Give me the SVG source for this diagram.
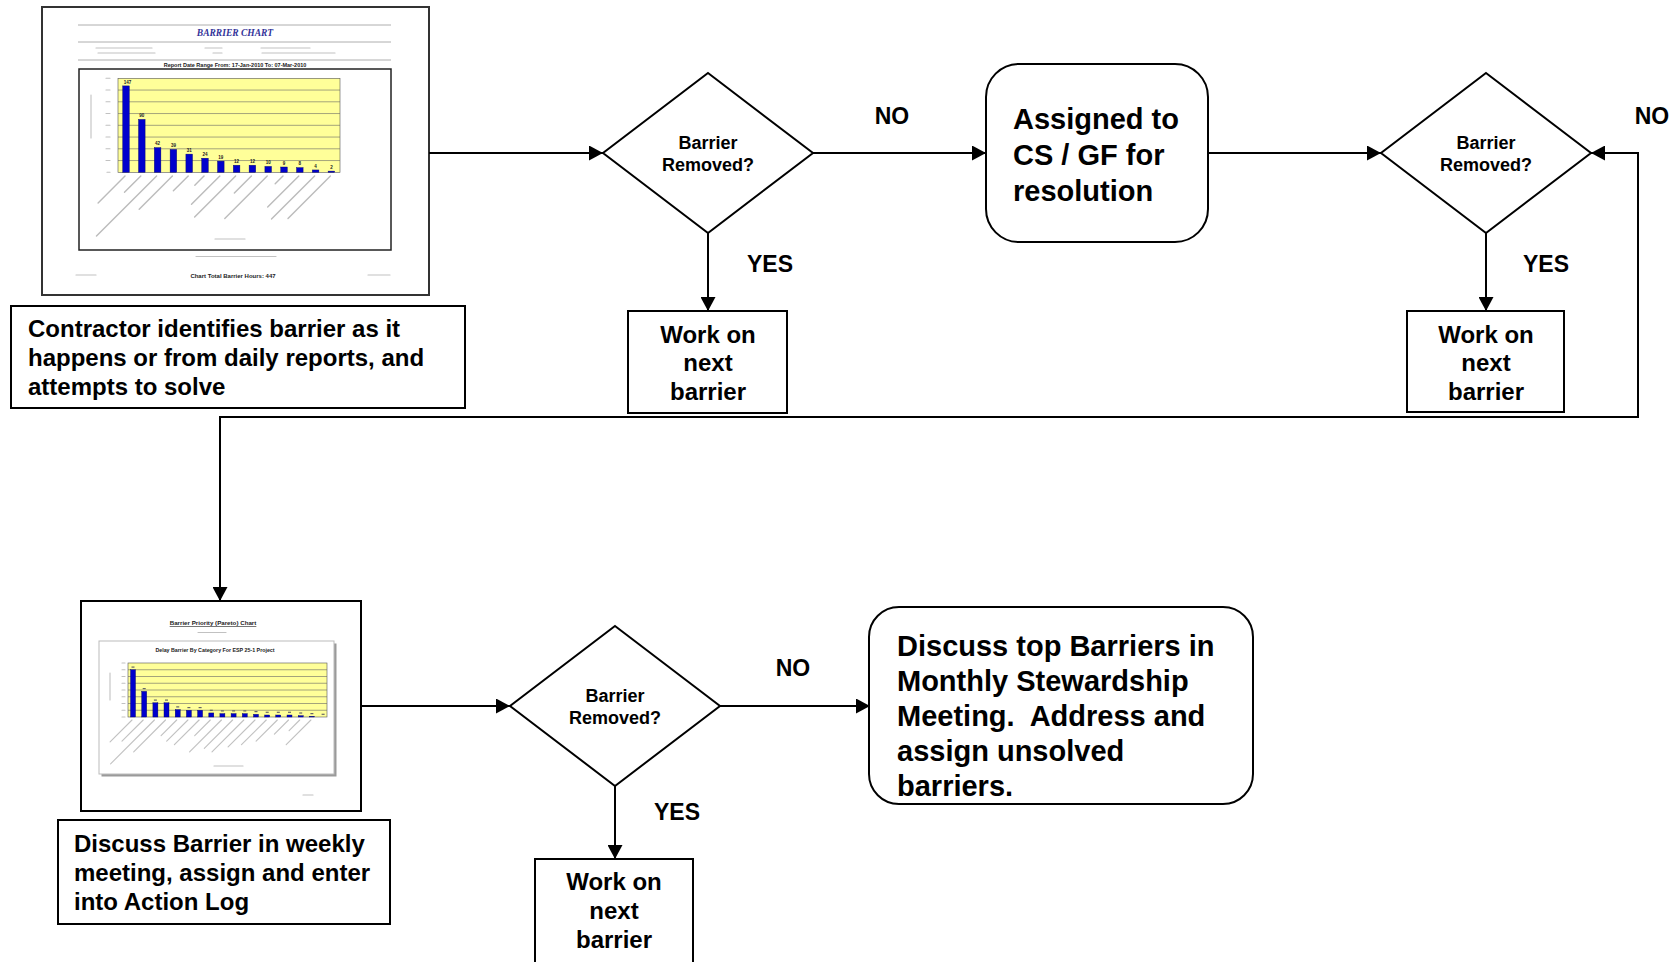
<svg xmlns="http://www.w3.org/2000/svg" width="1676" height="962" viewBox="0 0 1676 962">
<defs>
<style>
.box{fill:#fff;stroke:#000;stroke-width:2}
.t{font-family:"Liberation Sans",Arial,sans-serif;font-weight:bold;fill:#000}
.big{font-size:29px}
.mid{font-size:24px}
.dq{font-size:18px;text-anchor:middle}
.lbl{font-size:23px;text-anchor:middle}
.c{text-anchor:middle}
.con{fill:none;stroke:#000;stroke-width:2}
.page{fill:#fff;stroke:#333;stroke-width:2}
.rule{stroke:#999;stroke-width:0.8}
.grid{stroke:#666;stroke-width:0.6}
.plot{fill:#FFFF99;stroke:#555;stroke-width:0.6}
.bar{fill:#0000CC;stroke:#000066;stroke-width:0.4}
.blur{stroke:#a0a0a0;stroke-width:1.4;stroke-linecap:round;opacity:0.7}
.blur2{stroke:#a8a8a8;stroke-width:1.1;stroke-linecap:round;opacity:0.7}
.tiny{font-family:"Liberation Sans",Arial,sans-serif;font-weight:bold;fill:#222}
</style>
<marker id="ah" markerUnits="userSpaceOnUse" markerWidth="14" markerHeight="15" refX="14" refY="7.5" orient="auto-start-reverse" viewBox="0 0 14 15">
<path d="M0,0 L14,7.5 L0,15 z" fill="#000"/>
</marker>
</defs>
<rect width="1676" height="962" fill="#fff"/>

<g id="chart-barrier">
<rect class="page" x="42" y="7" width="387" height="288"/>
<line class="rule" x1="78" y1="25" x2="391" y2="25"/>
<line class="rule" x1="78" y1="42" x2="391" y2="42"/>
<line class="rule" x1="78" y1="60" x2="391" y2="60"/>
<text x="235" y="35.5" font-family="Liberation Serif,serif" font-style="italic" font-weight="bold" font-size="9.5" fill="#333399" text-anchor="middle">BARRIER CHART</text>
<g class="blur2">
<line x1="96" y1="48" x2="152" y2="48"/><line x1="205" y1="48" x2="222" y2="48"/><line x1="261" y1="48" x2="310" y2="48"/>
<line x1="98" y1="53" x2="155" y2="53"/><line x1="213" y1="53" x2="222" y2="53"/><line x1="262" y1="53" x2="335" y2="53"/>
</g>
<text class="tiny" x="235" y="66.5" font-size="5.5" text-anchor="middle">Report Date Range From: 17-Jan-2010 To: 07-Mar-2010</text>
<rect x="79" y="69" width="312" height="181" fill="#fff" stroke="#222" stroke-width="1.5"/>
<rect class="plot" x="118" y="78.3" width="222" height="94"/>
<g class="grid">
<line x1="118" y1="90.05" x2="340" y2="90.05"/><line x1="118" y1="101.8" x2="340" y2="101.8"/>
<line x1="118" y1="113.55" x2="340" y2="113.55"/><line x1="118" y1="125.3" x2="340" y2="125.3"/>
<line x1="118" y1="137.05" x2="340" y2="137.05"/><line x1="118" y1="148.8" x2="340" y2="148.8"/>
<line x1="118" y1="160.55" x2="340" y2="160.55"/>
</g>
<g class="blur2">
<line x1="106" y1="78.3" x2="110" y2="78.3"/><line x1="106" y1="90" x2="110" y2="90"/><line x1="106" y1="101.8" x2="110" y2="101.8"/>
<line x1="106" y1="113.5" x2="110" y2="113.5"/><line x1="106" y1="125.3" x2="110" y2="125.3"/><line x1="106" y1="137" x2="110" y2="137"/>
<line x1="106" y1="148.8" x2="110" y2="148.8"/><line x1="106" y1="160.5" x2="110" y2="160.5"/><line x1="107" y1="172.3" x2="110" y2="172.3"/>
<line x1="91" y1="95" x2="91" y2="138"/>
</g>
<rect class="bar" x="122.7" y="85.9" width="6.6" height="86.4"/>
<rect class="bar" x="138.5" y="119.4" width="6.6" height="52.9"/>
<rect class="bar" x="154.3" y="147.6" width="6.6" height="24.7"/>
<rect class="bar" x="170.1" y="149.4" width="6.6" height="22.9"/>
<rect class="bar" x="185.9" y="154.1" width="6.6" height="18.2"/>
<rect class="bar" x="201.7" y="158.2" width="6.6" height="14.1"/>
<rect class="bar" x="217.5" y="161.1" width="6.6" height="11.2"/>
<rect class="bar" x="233.3" y="165.25" width="6.6" height="7.05"/>
<rect class="bar" x="249.1" y="165.25" width="6.6" height="7.05"/>
<rect class="bar" x="264.9" y="166.4" width="6.6" height="5.9"/>
<rect class="bar" x="280.7" y="167" width="6.6" height="5.3"/>
<rect class="bar" x="296.5" y="167.6" width="6.6" height="4.7"/>
<rect class="bar" x="312.3" y="169.95" width="6.6" height="2.35"/>
<rect class="bar" x="328.1" y="171.1" width="6.6" height="1.2"/>
<g class="tiny" font-size="4.5" text-anchor="middle">
<text x="127.5" y="83.6">147</text><text x="141.8" y="117.2">90</text><text x="157.6" y="145.4">42</text>
<text x="173.4" y="147.2">39</text><text x="189.2" y="151.9">31</text><text x="205" y="156">24</text>
<text x="220.8" y="158.9">19</text><text x="236.6" y="163">12</text><text x="252.4" y="163">12</text>
<text x="268.2" y="164.2">10</text><text x="284" y="164.8">9</text><text x="299.8" y="165.4">8</text>
<text x="315.6" y="167.8">4</text><text x="331.4" y="168.9">2</text>
</g>
<g class="blur">
<line x1="125" y1="176" x2="98.1" y2="202.9"/><line x1="140.8" y1="176" x2="124.5" y2="192.3"/>
<line x1="156.6" y1="176" x2="96.5" y2="236.1"/><line x1="172.4" y1="176" x2="139.2" y2="209.2"/>
<line x1="188.2" y1="176" x2="173.4" y2="190.8"/><line x1="204" y1="176" x2="194.8" y2="185.2"/>
<line x1="219.8" y1="176" x2="191.5" y2="204.3"/><line x1="235.6" y1="176" x2="194.6" y2="217"/>
<line x1="251.4" y1="176" x2="234.4" y2="193"/><line x1="267.2" y1="176" x2="224.8" y2="218.4"/>
<line x1="283" y1="176" x2="275.2" y2="183.8"/><line x1="298.8" y1="176" x2="267.7" y2="207.1"/>
<line x1="314.6" y1="176" x2="271.5" y2="219.1"/><line x1="330.4" y1="176" x2="288" y2="218.4"/>
</g>
<g class="blur2">
<line x1="215" y1="239" x2="245" y2="239"/>
<line x1="196" y1="256.5" x2="276" y2="256.5"/>
<line x1="76" y1="275" x2="96" y2="275"/>
<line x1="368" y1="275" x2="390" y2="275"/>
</g>
<text class="tiny" x="233" y="277.5" font-size="6" text-anchor="middle">Chart Total Barrier Hours: 447</text>
</g>

<g id="contractor">
<rect class="box" x="11" y="306" width="454" height="102"/>
<text class="t mid" x="28" y="337">Contractor identifies barrier as it</text>
<text class="t mid" x="28" y="366">happens or from daily reports, and</text>
<text class="t mid" x="28" y="395">attempts to solve</text>
</g>

<g id="decision1">
<polygon class="box" points="708,73 813,153 708,233 603,153"/>
<text class="t dq" x="708" y="149">Barrier</text>
<text class="t dq" x="708" y="171">Removed?</text>
</g>

<g id="work1">
<rect class="box" x="628" y="311" width="159" height="102"/>
<text class="t mid c" x="708" y="343">Work on</text>
<text class="t mid c" x="708" y="371">next</text>
<text class="t mid c" x="708" y="400">barrier</text>
</g>

<g id="assigned">
<rect class="box" x="986" y="64" width="222" height="178" rx="33"/>
<text class="t big" x="1013" y="129">Assigned to</text>
<text class="t big" x="1013" y="165">CS / GF for</text>
<text class="t big" x="1013" y="201">resolution</text>
</g>

<g id="decision2">
<polygon class="box" points="1486,73 1591,153 1486,233 1381,153"/>
<text class="t dq" x="1486" y="149">Barrier</text>
<text class="t dq" x="1486" y="171">Removed?</text>
</g>

<g id="work2">
<rect class="box" x="1407" y="311" width="157" height="101"/>
<text class="t mid c" x="1486" y="343">Work on</text>
<text class="t mid c" x="1486" y="371">next</text>
<text class="t mid c" x="1486" y="400">barrier</text>
</g>

<g id="chart-pareto">
<rect x="81" y="601" width="280" height="210" fill="#fff" stroke="#000" stroke-width="2"/>
<text class="tiny" x="213" y="625" font-size="6.2" text-anchor="middle" text-decoration="underline" fill="#333">Barrier Priority (Pareto) Chart</text>
<line class="blur2" x1="198" y1="632.5" x2="226" y2="632.5"/>
<rect x="101.5" y="643.5" width="235" height="133" fill="#9a9a9a"/>
<rect x="99" y="641" width="235" height="133" fill="#fff" stroke="#bbb" stroke-width="1"/>
<text class="tiny" x="215" y="652" font-size="5.3" text-anchor="middle">Delay Barrier By Category For ESP 25-1 Project</text>
<rect class="plot" x="128" y="663" width="199" height="54"/>
<g class="grid">
<line x1="128" y1="669.75" x2="327" y2="669.75"/><line x1="128" y1="676.5" x2="327" y2="676.5"/>
<line x1="128" y1="683.25" x2="327" y2="683.25"/><line x1="128" y1="690" x2="327" y2="690"/>
<line x1="128" y1="696.75" x2="327" y2="696.75"/><line x1="128" y1="703.5" x2="327" y2="703.5"/>
<line x1="128" y1="710.25" x2="327" y2="710.25"/>
</g>
<g class="blur2">
<line x1="122" y1="663" x2="125" y2="663"/><line x1="122" y1="669.75" x2="125" y2="669.75"/><line x1="122" y1="676.5" x2="125" y2="676.5"/>
<line x1="122" y1="683.25" x2="125" y2="683.25"/><line x1="122" y1="690" x2="125" y2="690"/><line x1="122" y1="696.75" x2="125" y2="696.75"/>
<line x1="122" y1="703.5" x2="125" y2="703.5"/><line x1="122" y1="710.25" x2="125" y2="710.25"/><line x1="122" y1="717" x2="125" y2="717"/>
<line x1="110" y1="673" x2="110" y2="700"/>
</g>
<rect class="bar" x="130.5" y="669.75" width="5" height="47.25"/>
<rect class="bar" x="141.7" y="691.35" width="5" height="25.65"/>
<rect class="bar" x="152.9" y="702.8" width="5" height="14.2"/>
<rect class="bar" x="164" y="702.8" width="5" height="14.2"/>
<rect class="bar" x="175.2" y="709.6" width="5" height="7.4"/>
<rect class="bar" x="186.4" y="710.25" width="5" height="6.75"/>
<rect class="bar" x="197.6" y="710.25" width="5" height="6.75"/>
<rect class="bar" x="208.8" y="712.95" width="5" height="4.05"/>
<rect class="bar" x="219.9" y="713.6" width="5" height="3.4"/>
<rect class="bar" x="231.1" y="713.6" width="5" height="3.4"/>
<rect class="bar" x="242.3" y="713.6" width="5" height="3.4"/>
<rect class="bar" x="253.5" y="714.3" width="5" height="2.7"/>
<rect class="bar" x="264.7" y="715" width="5" height="2"/>
<rect class="bar" x="275.8" y="715" width="5" height="2"/>
<rect class="bar" x="287" y="715" width="5" height="2"/>
<rect class="bar" x="298.2" y="715.65" width="5" height="1.35"/>
<rect class="bar" x="309.4" y="716.3" width="5" height="0.7"/>
<g fill="#666">
<rect x="131.5" y="666.5" width="3" height="1.2"/><rect x="142.7" y="688" width="3" height="1.2"/><rect x="153.9" y="699.5" width="3" height="1.2"/>
<rect x="165" y="699.5" width="3" height="1.2"/><rect x="176.2" y="706.3" width="3" height="1.2"/><rect x="187.4" y="707" width="3" height="1.2"/>
<rect x="198.6" y="707" width="3" height="1.2"/><rect x="209.8" y="709.7" width="3" height="1.2"/><rect x="220.9" y="710.3" width="3" height="1.2"/>
<rect x="232.1" y="710.3" width="3" height="1.2"/><rect x="243.3" y="710.3" width="3" height="1.2"/><rect x="254.5" y="711" width="3" height="1.2"/>
<rect x="265.7" y="711.7" width="3" height="1.2"/><rect x="276.8" y="711.7" width="3" height="1.2"/><rect x="288" y="711.7" width="3" height="1.2"/>
<rect x="299.2" y="712.4" width="3" height="1.2"/><rect x="310.4" y="713" width="3" height="1.2"/><rect x="321.6" y="713.7" width="3" height="1.2"/>
</g>
<g class="blur2">
<line x1="132" y1="720" x2="110.1" y2="741.9"/><line x1="143.2" y1="720" x2="122" y2="741.2"/>
<line x1="154.4" y1="720" x2="110.6" y2="763.8"/><line x1="165.5" y1="720" x2="133.7" y2="751.8"/>
<line x1="176.7" y1="720" x2="161.1" y2="735.6"/><line x1="187.9" y1="720" x2="166.7" y2="741.2"/>
<line x1="199.1" y1="720" x2="174.4" y2="744.7"/><line x1="210.3" y1="720" x2="194.7" y2="735.6"/>
<line x1="221.4" y1="720" x2="189.6" y2="751.8"/><line x1="232.6" y1="720" x2="204.3" y2="748.3"/>
<line x1="243.8" y1="720" x2="212" y2="751.8"/><line x1="255" y1="720" x2="228.1" y2="746.9"/>
<line x1="266.2" y1="720" x2="241.5" y2="744.7"/><line x1="277.3" y1="720" x2="256.1" y2="741.2"/>
<line x1="288.5" y1="720" x2="274.4" y2="734.1"/><line x1="299.7" y1="720" x2="289.1" y2="730.6"/>
<line x1="310.9" y1="720" x2="286.2" y2="744.7"/>
<line x1="214" y1="766" x2="243" y2="766"/>
<line x1="303" y1="795" x2="313" y2="795"/>
</g>
</g>

<g id="weekly">
<rect class="box" x="58" y="820" width="332" height="104"/>
<text class="t mid" x="74" y="852">Discuss Barrier in weekly</text>
<text class="t mid" x="74" y="881">meeting, assign and enter</text>
<text class="t mid" x="74" y="910">into Action Log</text>
</g>

<g id="decision3">
<polygon class="box" points="615,626 720,706 615,786 510,706"/>
<text class="t dq" x="615" y="702">Barrier</text>
<text class="t dq" x="615" y="724">Removed?</text>
</g>

<g id="work3">
<rect class="box" x="535" y="859" width="158" height="120"/>
<text class="t mid c" x="614" y="890">Work on</text>
<text class="t mid c" x="614" y="919">next</text>
<text class="t mid c" x="614" y="948">barrier</text>
</g>

<g id="monthly">
<rect class="box" x="869" y="607" width="384" height="197" rx="30"/>
<text class="t big" x="897" y="656">Discuss top Barriers in</text>
<text class="t big" x="897" y="691">Monthly Stewardship</text>
<text class="t big" x="897" y="726" xml:space="preserve">Meeting.  Address and</text>
<text class="t big" x="897" y="761">assign unsolved</text>
<text class="t big" x="897" y="796">barriers.</text>
</g>

<g id="connectors">
<path class="con" d="M429,153 H603" marker-end="url(#ah)"/>
<path class="con" d="M813,153 H986" marker-end="url(#ah)"/>
<path class="con" d="M708,233 V311" marker-end="url(#ah)"/>
<path class="con" d="M1208,153 H1381" marker-end="url(#ah)"/>
<path class="con" d="M1486,233 V311" marker-end="url(#ah)"/>
<path class="con" d="M1591,153 H1638 V417 H220 V601" marker-start="url(#ah)" marker-end="url(#ah)"/>
<path class="con" d="M361,706 H510" marker-end="url(#ah)"/>
<path class="con" d="M720,706 H870" marker-end="url(#ah)"/>
<path class="con" d="M615,786 V859" marker-end="url(#ah)"/>
</g>

<g id="labels">
<text class="t lbl" x="892" y="124">NO</text>
<text class="t lbl" x="770" y="272">YES</text>
<text class="t lbl" x="1652" y="124">NO</text>
<text class="t lbl" x="1546" y="272">YES</text>
<text class="t lbl" x="793" y="676">NO</text>
<text class="t lbl" x="677" y="820">YES</text>
</g>
</svg>
